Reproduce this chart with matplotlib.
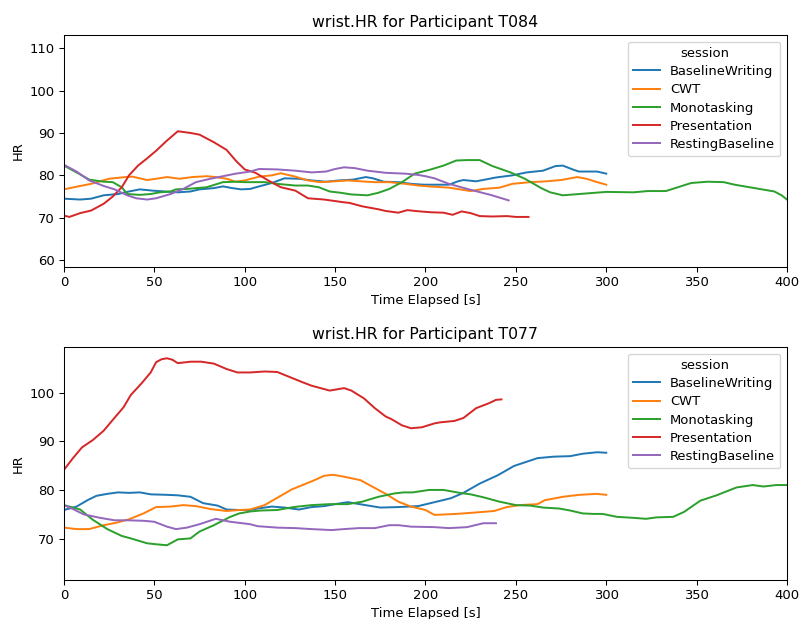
import matplotlib
matplotlib.use("Agg")
from matplotlib import pyplot as plt

sessions = ["BaselineWriting", "CWT", "Monotasking", "Presentation", "RestingBaseline"]
colores = ["#1f77b4", "#ff7f0e", "#2ca02c", "#d62728", "#9467bd"]

### Participante T084

t084_bw_t = [0, 9, 15, 22, 30, 36, 42, 49, 56, 63, 70, 75, 83, 88, 93, 98, 103, 108, 115, 122, 130, 137, 145,
             152, 160, 167, 171, 177, 185, 192, 199, 205, 213, 218, 221, 228, 233, 239, 248, 256, 265, 272, 276,
             282, 285, 295, 300]
t084_bw_v = [74.5, 74.3, 74.5, 75.3, 75.6, 76.2, 76.7, 76.4, 76.2, 76.0, 76.2, 76.7, 77.0, 77.4, 77.0, 76.7,
             76.8, 77.4, 78.2, 79.3, 79.2, 78.8, 78.5, 78.8, 79.0, 79.6, 79.3, 78.5, 78.4, 78.0, 77.8, 77.8,
             77.8, 78.6, 78.9, 78.6, 79.0, 79.5, 80.0, 80.7, 81.1, 82.2, 82.3, 81.3, 80.9, 80.9, 80.4]

t084_cwt_t = [0, 9, 15, 25, 34, 38, 46, 51, 57, 64, 71, 79, 84, 90, 95, 100, 108, 115, 120, 128, 135, 142,
              150, 157, 164, 172, 180, 189, 196, 202, 213, 225, 232, 241, 248, 258, 267, 275, 284, 289, 295, 300]
t084_cwt_v = [76.7, 77.5, 78.0, 79.2, 79.6, 79.7, 78.9, 79.2, 79.6, 79.2, 79.6, 79.8, 79.6, 79.2, 78.5, 78.8,
              79.7, 80.0, 80.5, 79.7, 78.8, 78.4, 78.6, 78.8, 78.6, 78.4, 78.4, 78.0, 77.6, 77.4, 77.1, 76.3,
              76.8, 77.1, 78.0, 78.4, 78.6, 78.9, 79.6, 79.2, 78.4, 77.8]

t084_mono_t = [0, 7, 14, 22, 27, 32, 35, 42, 48, 53, 59, 62, 68, 79, 88, 95, 100, 111, 118, 128, 135, 141,
               147, 153, 159, 168, 174, 180, 187, 194, 203, 210, 217, 223, 230, 237, 247, 255, 264, 269,
               276, 285, 294, 300, 315, 323, 333, 347, 356, 365, 371, 382, 393, 397, 400]
t084_mono_v = [82.3, 80.7, 79.0, 78.5, 78.4, 77.2, 75.6, 75.4, 75.6, 76.0, 76.2, 76.7, 76.8, 77.2, 78.4, 78.5,
               78.4, 78.4, 78.0, 77.6, 77.6, 77.2, 76.2, 75.9, 75.5, 75.3, 75.9, 76.8, 78.4, 80.4, 81.4,
               82.3, 83.5, 83.6, 83.6, 82.2, 80.7, 79.2, 77.0, 76.0, 75.3, 75.6, 75.9, 76.1, 76.0, 76.3,
               76.3, 78.2, 78.5, 78.4, 77.8, 77.0, 76.2, 75.3, 74.3]

t084_pres_t = [0, 3, 9, 15, 22, 27, 32, 36, 41, 46, 51, 57, 63, 70, 75, 83, 90, 95, 100, 106, 113, 120, 128,
               135, 144, 154, 158, 165, 174, 178, 185, 190, 197, 203, 210, 215, 220, 225, 230, 237, 245, 250, 257]
t084_pres_v = [70.5, 70.2, 71.1, 71.7, 73.3, 75.0, 77.2, 80.0, 82.3, 84.0, 85.8, 88.2, 90.4, 90.0, 89.6, 87.8,
               86.0, 83.5, 81.4, 80.6, 78.8, 77.2, 76.4, 74.6, 74.3, 73.7, 73.5, 72.7, 72.0, 71.6, 71.2,
               71.8, 71.5, 71.3, 71.2, 70.7, 71.5, 71.1, 70.4, 70.3, 70.4, 70.2, 70.2]

t084_rest_t = [0, 7, 14, 22, 28, 35, 40, 46, 51, 59, 66, 73, 81, 88, 95, 103, 108, 118, 128, 137, 145, 150,
               155, 161, 168, 178, 189, 196, 200, 205, 213, 224, 236, 246]
t084_rest_v = [82.5, 80.9, 78.8, 77.5, 76.7, 75.3, 74.6, 74.3, 74.6, 75.6, 76.8, 78.4, 79.2, 79.8, 80.4, 80.9,
               81.5, 81.4, 81.1, 80.7, 80.9, 81.5, 81.9, 81.7, 81.1, 80.6, 80.4, 80.1, 79.8, 79.3, 78.0,
               76.7, 75.4, 74.1]

### Participante T077

t077_bw_t = [0, 7, 13, 18, 24, 30, 36, 42, 48, 57, 63, 70, 77, 85, 90, 97, 103, 107, 115, 122, 130, 137, 144,
             150, 157, 175, 185, 196, 205, 214, 221, 230, 240, 249, 262, 271, 280, 287, 295, 300]
t077_bw_v = [76.0, 76.7, 78.0, 78.9, 79.3, 79.6, 79.5, 79.6, 79.2, 79.1, 79.0, 78.7, 77.4, 76.9, 76.1, 76.0,
             76.0, 76.3, 76.7, 76.5, 76.1, 76.6, 76.8, 77.2, 77.6, 76.5, 76.6, 76.8, 77.6, 78.4, 79.5,
             81.4, 83.1, 85.0, 86.6, 86.9, 87.0, 87.5, 87.8, 87.7]

t077_cwt_t = [0, 7, 14, 22, 29, 36, 44, 51, 59, 66, 73, 81, 90, 97, 103, 111, 119, 126, 132, 138, 144, 149,
              155, 164, 170, 178, 185, 192, 200, 205, 217, 228, 238, 245, 252, 262, 266, 276, 285, 295, 300]
t077_cwt_v = [72.4, 72.1, 72.1, 72.9, 73.4, 74.1, 75.3, 76.6, 76.7, 77.0, 76.8, 76.2, 75.8, 76.0, 76.1, 77.0,
              78.7, 80.2, 81.1, 82.0, 83.0, 83.2, 82.8, 82.1, 80.9, 79.3, 77.7, 76.7, 76.0, 75.0, 75.2,
              75.5, 75.8, 76.6, 77.0, 77.2, 78.0, 78.7, 79.1, 79.3, 79.1]

t077_mono_t = [0, 9, 16, 24, 32, 37, 46, 51, 57, 63, 70, 75, 83, 92, 97, 103, 109, 118, 127, 137, 147, 157,
               165, 174, 183, 188, 193, 202, 210, 219, 225, 232, 241, 250, 258, 265, 274, 280, 287, 293,
               298, 306, 315, 322, 328, 337, 343, 352, 361, 372, 381, 387, 394, 400]
t077_mono_v = [77.0, 76.1, 74.0, 72.1, 70.7, 70.2, 69.2, 69.0, 68.8, 70.0, 70.2, 71.6, 72.9, 74.6, 75.3, 75.7,
               75.9, 76.0, 76.6, 77.0, 77.2, 77.2, 77.7, 78.7, 79.4, 79.6, 79.6, 80.1, 80.1, 79.5, 79.2,
               78.6, 77.7, 77.0, 76.9, 76.5, 76.3, 75.9, 75.3, 75.2, 75.2, 74.6, 74.4, 74.2, 74.5, 74.6,
               75.6, 77.9, 79.0, 80.6, 81.1, 80.8, 81.1, 81.1]

t077_pres_t = [0, 5, 10, 16, 22, 27, 33, 37, 43, 48, 51, 54, 57, 60, 63, 70, 76, 83, 90, 96, 103, 111, 118,
               124, 132, 137, 147, 155, 159, 166, 172, 178, 181, 187, 192, 198, 205, 208, 216, 221, 228,
               235, 239, 242]
t077_pres_v = [84.2, 86.6, 88.8, 90.3, 92.2, 94.4, 97.0, 99.5, 101.9, 104.1, 106.2, 106.8, 107.0, 106.7,
               106.0, 106.3, 106.3, 105.9, 104.8, 104.1, 104.1, 104.3, 104.2, 103.3, 102.1, 101.4, 100.4,
               100.9, 100.4, 98.8, 96.8, 95.1, 94.6, 93.3, 92.7, 92.9, 93.7, 93.9, 94.2, 94.8, 96.8,
               97.8, 98.5, 98.6]

t077_rest_t = [0, 5, 11, 20, 28, 35, 44, 50, 57, 62, 68, 75, 84, 92, 103, 107, 118, 128, 137, 148, 155, 163,
               172, 180, 185, 192, 205, 213, 223, 232, 239]
t077_rest_v = [77.0, 76.2, 75.1, 74.4, 73.9, 73.9, 73.8, 73.6, 72.6, 72.1, 72.4, 73.1, 74.2, 73.6, 73.1,
               72.7, 72.4, 72.3, 72.1, 71.9, 72.1, 72.3, 72.3, 72.9, 72.9, 72.6, 72.5, 72.3, 72.5, 73.3, 73.3]

datos = {
    "T084": [(t084_bw_t, t084_bw_v), (t084_cwt_t, t084_cwt_v), (t084_mono_t, t084_mono_v),
             (t084_pres_t, t084_pres_v), (t084_rest_t, t084_rest_v)],
    "T077": [(t077_bw_t, t077_bw_v), (t077_cwt_t, t077_cwt_v), (t077_mono_t, t077_mono_v),
             (t077_pres_t, t077_pres_v), (t077_rest_t, t077_rest_v)],
}
limites_y = {"T084": (58.4, 113.1), "T077": (61.7, 109.3)}

# el original sale con texto un poco mas chico, asi que bajo el dpi
DPI = 94.4
fig = plt.figure(figsize=(799 / DPI, 619 / DPI), dpi=DPI)
ax1 = fig.add_axes([0.080, 0.5687, 0.905, 0.3748])
ax2 = fig.add_axes([0.080, 0.0630, 0.905, 0.3764])

for ax, part in [(ax1, "T084"), (ax2, "T077")]:
    for k in range(len(sessions)):
        tt, vv = datos[part][k]
        ax.plot(tt, vv, color=colores[k], lw=1.5, label=sessions[k])
    ax.set_xlim(0, 400)
    ax.set_ylim(limites_y[part])
    ax.set_title("wrist.HR for Participant " + part)
    ax.set_xlabel("Time Elapsed [s]")
    ax.set_ylabel("HR")
    ax.legend(title="session", loc="upper right", labelspacing=0.4)

ax1.set_yticks([60, 70, 80, 90, 100, 110])
ax2.set_yticks([70, 80, 90, 100])

fig.savefig("out.png", dpi=DPI)
